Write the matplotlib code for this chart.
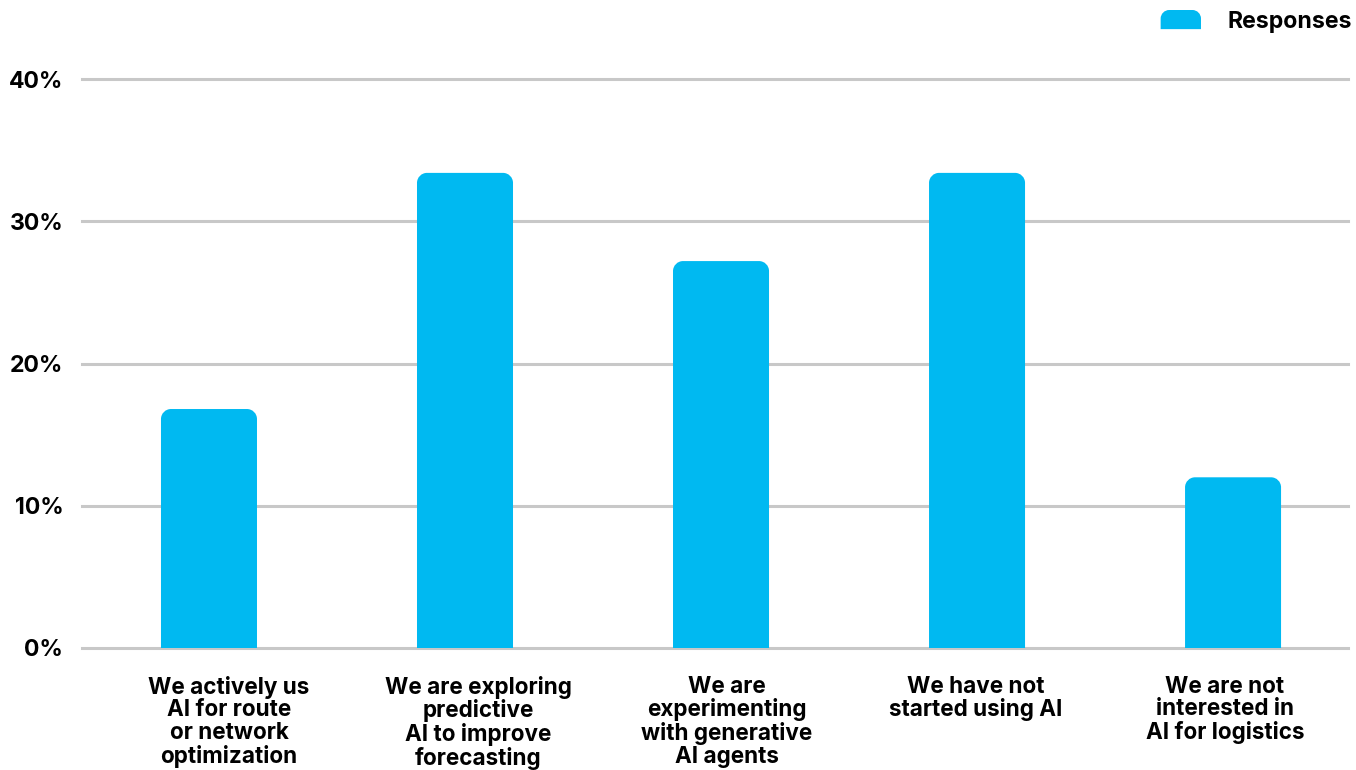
import matplotlib
matplotlib.use("Agg")
import matplotlib.pyplot as plt
from matplotlib.path import Path
from matplotlib.patches import PathPatch, Patch
from matplotlib.legend_handler import HandlerPatch
from matplotlib.ticker import FuncFormatter

plt.rcParams["font.family"] = ["Inter", "DejaVu Sans"]
plt.rcParams["font.weight"] = "bold"

categories = [
    "We actively us\nAI for route\nor network\noptimization",
    "We are exploring\npredictive\nAI to improve\nforecasting",
    "We are\nexperimenting\nwith generative\nAI agents",
    "We have not\nstarted using AI",
    "We are not\ninterested in\nAI for logistics",
]
responses = [16.8, 33.4, 27.2, 33.4, 12.0]
y_ticks = [0, 10, 20, 30, 40]

BAR_COLOR = "#00B9F1"
GRID_COLOR = "#C8C8C8"
BAR_WIDTH = 0.375
RADIUS_PX = 10


def rounded_top_bar(x0, x1, top, rx, ry):
    """Path for a bar with rounded top corners only."""
    k = 0.5523
    verts = [
        (x0, 0), (x0, top - ry),
        (x0, top - ry + k * ry), (x0 + rx - k * rx, top), (x0 + rx, top),
        (x1 - rx, top),
        (x1 - rx + k * rx, top), (x1, top - ry + k * ry), (x1, top - ry),
        (x1, 0), (x0, 0),
    ]
    codes = [Path.MOVETO, Path.LINETO,
             Path.CURVE4, Path.CURVE4, Path.CURVE4,
             Path.LINETO,
             Path.CURVE4, Path.CURVE4, Path.CURVE4,
             Path.LINETO, Path.CLOSEPOLY]
    return Path(verts, codes)


class RoundedHandler(HandlerPatch):
    def create_artists(self, legend, orig_handle, xdescent, ydescent,
                       width, height, fontsize, trans):
        r = height * 0.45
        p = rounded_top_bar(-xdescent, -xdescent + width, height, r, r)
        p = Path(p.vertices + [0, -ydescent], p.codes)
        patch = PathPatch(p, facecolor=BAR_COLOR, edgecolor="none", transform=trans)
        return [patch]


fig = plt.figure(figsize=(13.56, 7.70), dpi=100)
ax = fig.add_axes([82 / 1356, 122 / 770, 1266 / 1356, 569 / 770])
ax.set_xlim(-0.496, 4.449)
ax.set_ylim(0, 40)

# data units per pixel, used to keep corner radius circular on screen
ux = (4.449 + 0.496) / 1266
uy = 40 / 569
rx, ry = RADIUS_PX * ux, RADIUS_PX * uy

for i, v in enumerate(responses):
    path = rounded_top_bar(i - BAR_WIDTH / 2, i + BAR_WIDTH / 2, v, rx, ry)
    ax.add_patch(PathPatch(path, facecolor=BAR_COLOR, edgecolor="none", zorder=3))

ax.set_yticks(y_ticks)
ax.yaxis.set_major_formatter(FuncFormatter(lambda v, _: f"{v:.0f}%"))
ax.grid(axis="y", color=GRID_COLOR, linewidth=2.2, zorder=0)
for gl in ax.get_ygridlines():
    gl.set_clip_on(False)
ax.tick_params(axis="y", length=0, pad=13.5, labelsize=16.6)
ax.set_xticks([])
for s in ax.spines.values():
    s.set_visible(False)

# category labels sit on a slightly tighter pitch than the bars
label_step = 249 / 256
label_shift = 20 / 256
for i, lab in enumerate(categories):
    ax.text(i * label_step + label_shift, -1.95, lab, ha="center", va="top",
            fontsize=16.2, fontweight="bold", linespacing=1.04)

handle = Patch(facecolor=BAR_COLOR, label="Responses")
fig.legend(handles=[handle], labels=["Responses"], loc="upper right",
           bbox_to_anchor=(1352 / 1356, 1 - 10 / 770), frameon=False,
           fontsize=16.6, handler_map={Patch: RoundedHandler()},
           handlelength=1.75, handleheight=0.9, handletextpad=1.15,
           borderpad=0, borderaxespad=0)

fig.savefig("out.png", dpi=100, facecolor="white")
